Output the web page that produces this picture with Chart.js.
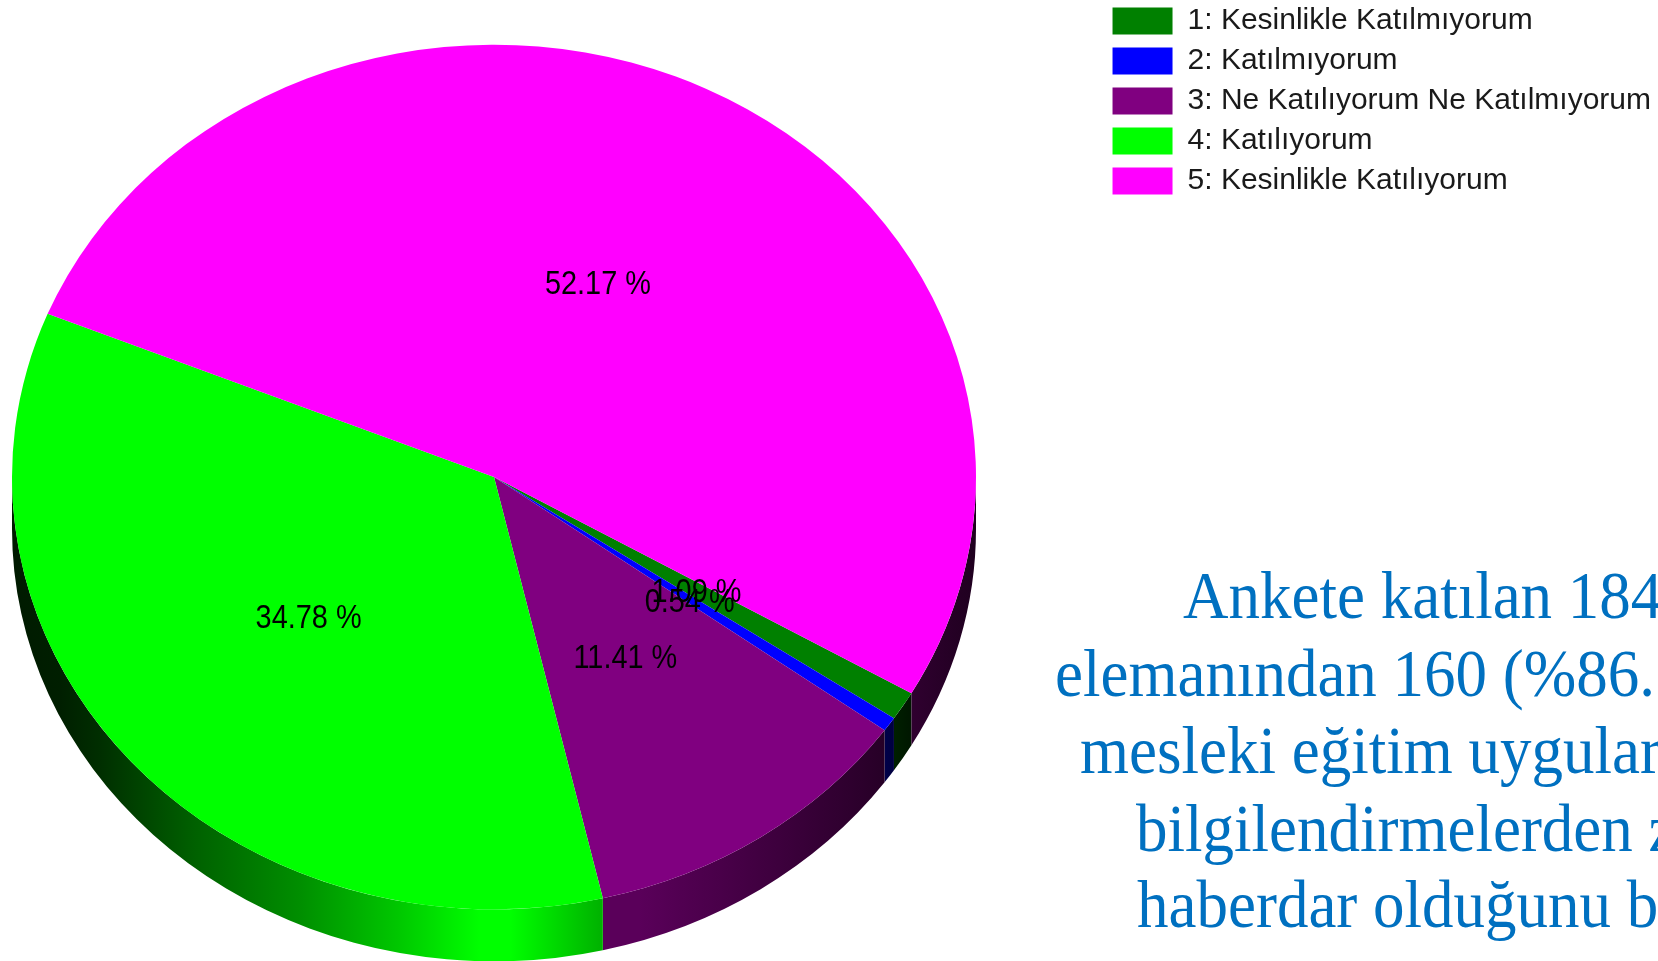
<!DOCTYPE html>
<html>
<head>
<meta charset="utf-8">
<style>
  html, body { margin: 0; padding: 0; background: #fff; overflow: hidden; }
  #wrap { position: relative; width: 1658px; height: 961px; overflow: hidden; }
  #myChart { position: absolute; left: 0; top: 0; }
  .note {
    position: absolute; white-space: nowrap; color: #0070c0; line-height: 1;
    font-family: "Liberation Serif", serif; font-size: 63px;
    transform-origin: left bottom; transform: scaleY(1.06);
  }
</style>
<script src="https://cdn.jsdelivr.net/npm/chart.js@4"></script>
</head>
<body>
<div id="wrap">
  <canvas id="myChart" width="1658" height="961"></canvas>
</div>
<script>
const categories = [
  '1: Kesinlikle Katılmıyorum',
  '2: Katılmıyorum',
  '3: Ne Katılıyorum Ne Katılmıyorum',
  '4: Katılıyorum',
  '5: Kesinlikle Katılıyorum'
];
const percents = [1.09, 0.54, 11.41, 34.78, 52.17];
const sliceColors = ['#008000', '#0000ff', '#800080', '#00ff00', '#ff00ff'];
const noteLines = [
  'Ankete katılan 184',
  'elemanından 160 (%86.',
  'mesleki eğitim uygular',
  'bilgilendirmelerden z',
  'haberdar olduğunu b'
];

// where the flattened pie sits on the page
const pieX = 494, pieY = 477, pieR = 482, squash = 0.897, wallDepth = 52;

// brightness of the side wall, left to right across the pie
const wallStops = [[0, .1], [.05, .12], [.09, .18], [.19, .38], [.3, .56], [.4, .78], [.485, 1], [.517, 1], [.61, .7], [.65, .7], [.9, .31], [.93, .19], [1, .12]];

function shade(hex, m) {
  const r = parseInt(hex.slice(1, 3), 16), g = parseInt(hex.slice(3, 5), 16), b = parseInt(hex.slice(5, 7), 16);
  return 'rgb(' + Math.round(r * m) + ',' + Math.round(g * m) + ',' + Math.round(b * m) + ')';
}

function flatten(ctx, arc) {
  ctx.translate(pieX, pieY);
  ctx.scale(1, squash);
  ctx.translate(-arc.x, -arc.y);
}

function drawWall(ctx, arc, color) {
  const R = arc.outerRadius;
  const drop = wallDepth / squash;
  const grad = ctx.createLinearGradient(arc.x - R, 0, arc.x + R, 0);
  wallStops.forEach(s => grad.addColorStop(s[0], shade(color, s[1])));
  ctx.fillStyle = grad;
  // only the part of the slice facing the viewer (0 to PI) has a wall
  for (let k = -1; k <= 1; k++) {
    const a = Math.max(arc.startAngle, 2 * Math.PI * k);
    const b = Math.min(arc.endAngle, Math.PI + 2 * Math.PI * k);
    if (b <= a) continue;
    ctx.beginPath();
    ctx.arc(arc.x, arc.y, R, a, b);
    ctx.arc(arc.x, arc.y + drop, R, b, a, true);
    ctx.closePath();
    ctx.fill();
  }
}

const pie3d = {
  id: 'pie3d',
  afterLayout(chart) {
    // legend sits a little off where the right-hand layout puts it
    const lg = chart.legend;
    lg.left += 3; lg.right += 3;
    lg.top -= 4; lg.bottom -= 4;
  },
  beforeDatasetsDraw(chart) {
    const ctx = chart.ctx;
    const arcs = chart.getDatasetMeta(0).data;
    ctx.save();
    flatten(ctx, arcs[0]);
    arcs.forEach((arc, i) => drawWall(ctx, arc, sliceColors[i]));
  },
  afterDatasetsDraw(chart) {
    const ctx = chart.ctx;
    const arcs = chart.getDatasetMeta(0).data;
    ctx.restore();
    ctx.fillStyle = '#000';
    ctx.font = '34px "Liberation Sans"';
    ctx.textAlign = 'center';
    ctx.textBaseline = 'middle';
    arcs.forEach((arc, i) => {
      const p = arc.getCenterPoint();
      ctx.save();
      ctx.translate(pieX + p.x - arc.x - 2, pieY + (p.y - arc.y) * squash + 1.5);
      ctx.scale(0.85, 1);
      ctx.fillText(percents[i].toFixed(2) + ' %', 0, 0);
      ctx.restore();
    });
  }
};

new Chart(document.getElementById('myChart'), {
  type: 'pie',
  data: {
    labels: categories,
    datasets: [{
      data: percents,
      backgroundColor: sliceColors,
      borderWidth: 0
    }]
  },
  options: {
    responsive: false,
    animation: false,
    rotation: 120,
    radius: pieR,
    plugins: {
      tooltip: { enabled: false },
      legend: {
        position: 'right',
        align: 'start',
        labels: {
          boxWidth: 60,
          boxHeight: 27,
          padding: 10,
          color: '#1a1a1a',
          font: { family: '"Liberation Sans"', size: 30 }
        }
      }
    }
  },
  plugins: [pie3d]
});

const noteLeft = [1183, 1055, 1080, 1136, 1137];
const noteBase = [617, 695, 772, 850, 926];
noteLines.forEach((line, i) => {
  const el = document.createElement('div');
  el.className = 'note';
  el.textContent = line;
  el.style.left = noteLeft[i] + 'px';
  el.style.top = (noteBase[i] - 50) + 'px';
  document.getElementById('wrap').appendChild(el);
});
</script>
</body>
</html>
